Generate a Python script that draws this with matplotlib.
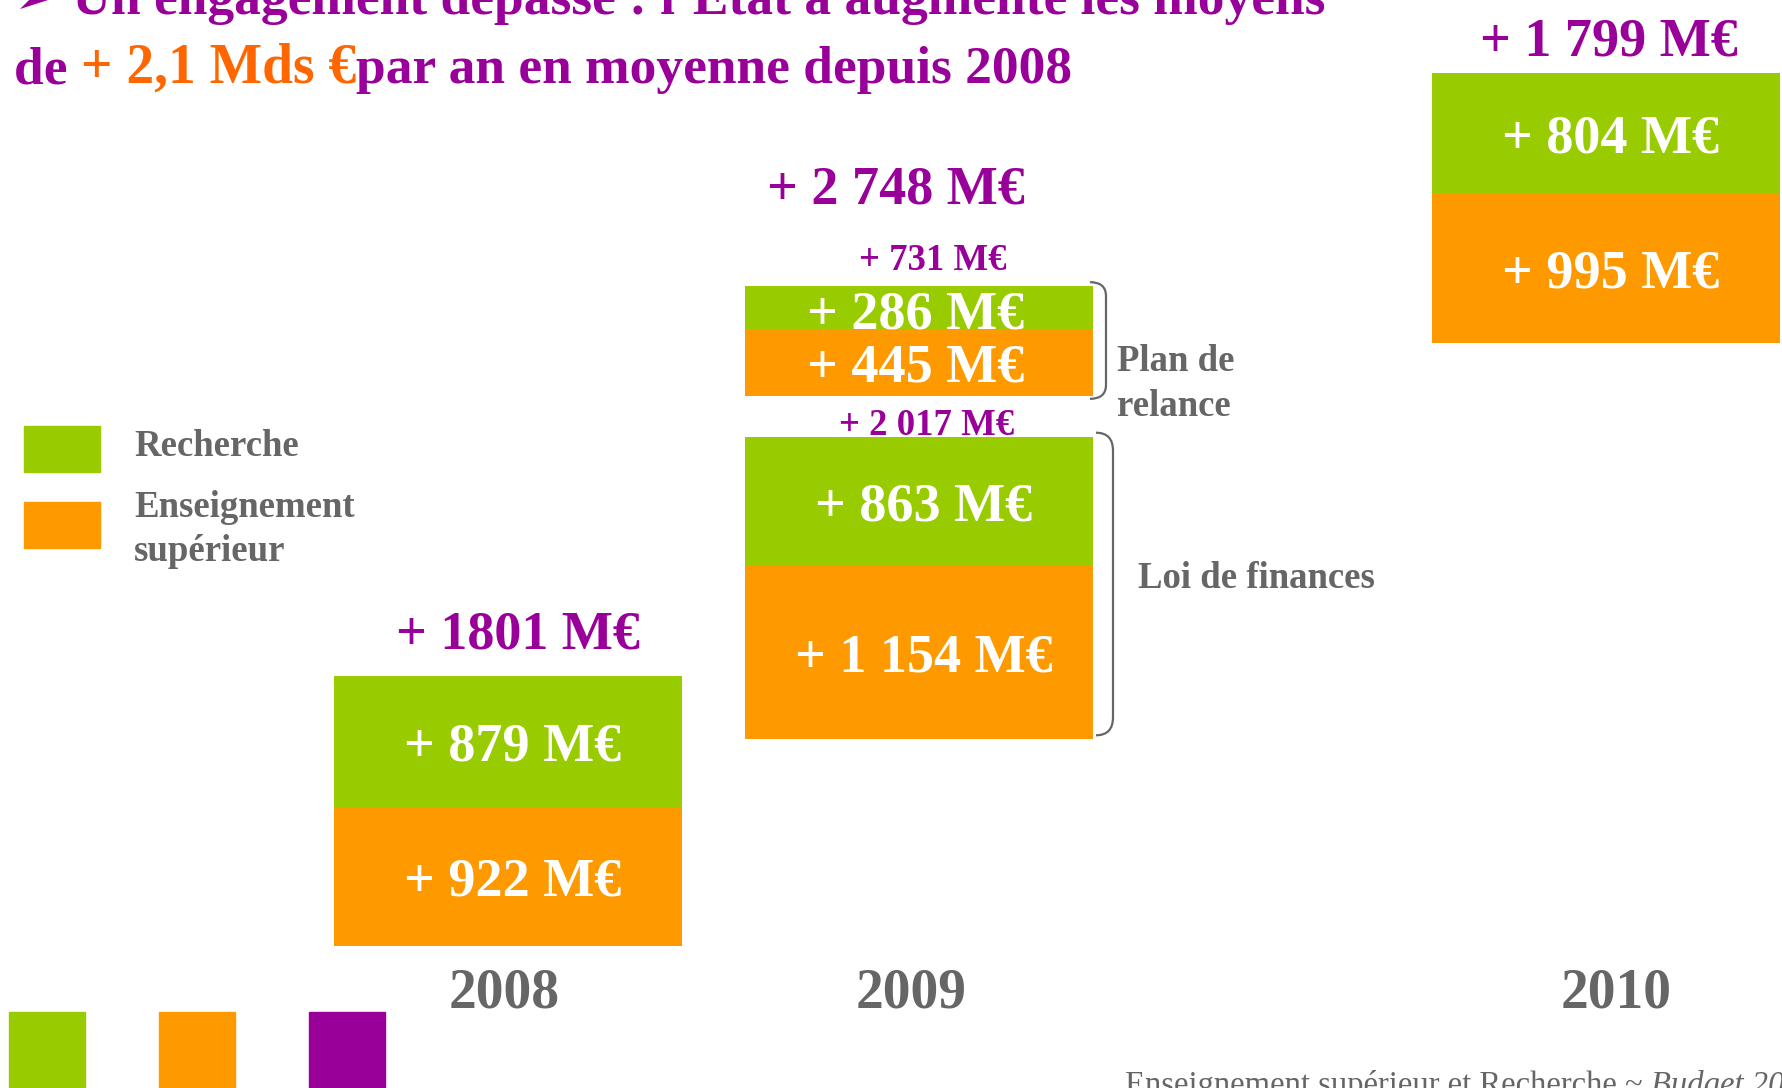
import matplotlib.pyplot as plt
from matplotlib.patches import Rectangle, PathPatch
from matplotlib.path import Path

# additional means per year, in M€
years = ['2008', '2009', '2010']
recherche = [879, 863, 804]        # 2009 = loi de finances
enseignement = [922, 1154, 995]
relance_recherche = 286            # 2009 plan de relance
relance_enseignement = 445

GREEN = '#99CC00'
ORANGE = '#FF9900'
PURPLE = '#990099'
TITLE_ORANGE = '#FF6600'
GRAY = '#666666'
SERIF = ['Liberation Serif', 'DejaVu Sans']

# slide layout (pixels)
K = 0.15                  # pixels per M€
BAR_W = 348
xpos = [508, 919, 1606]
centers = [811, 588, 208]
relance_center = 341
year_dx = [-4, -8, 10]


def fmt(v, sep=' '):
    return '+ ' + f'{v:,}'.replace(',', sep) + ' M€'


fig = plt.figure(figsize=(17.83, 10.88), dpi=100)
ax = fig.add_axes([0, 0, 1, 1])
ax.set_xlim(0, 1783)
ax.set_ylim(1088, 0)
ax.axis('off')
renderer = fig.canvas.get_renderer()


def width(s, **kw):
    t = ax.text(0, 0, s, **kw)
    w = t.get_window_extent(renderer=renderer).width
    t.remove()
    return w


def runs(x, y, parts, **kw):
    # draw pieces of text one after another on the same baseline
    for s, extra in parts:
        opts = dict(kw)
        opts.update(extra)
        ax.text(x, y, s, ha='left', va='baseline', **opts)
        x += width(s + '.', **opts) - width('.', **opts)


def bracket(x0, top, bot, w=16, r=14):
    verts = [(x0, top), (x0 + w, top), (x0 + w, top + r),
             (x0 + w, bot - r),
             (x0 + w, bot), (x0, bot)]
    codes = [Path.MOVETO, Path.CURVE3, Path.CURVE3, Path.LINETO, Path.CURVE3, Path.CURVE3]
    ax.add_patch(PathPatch(Path(verts, codes), fill=False, edgecolor=GRAY, lw=1.6))


big = dict(family=SERIF, fontweight='bold', fontsize=39)
small = dict(family=SERIF, fontweight='bold', fontsize=26.5)

# main stacks
hr = [v * K for v in recherche]
he = [v * K for v in enseignement]
tops = [c - (a + b) / 2 for c, a, b in zip(centers, hr, he)]
ax.bar(xpos, hr, bottom=tops, width=BAR_W, color=GREEN, zorder=2)
ax.bar(xpos, he, bottom=[t + a for t, a in zip(tops, hr)], width=BAR_W, color=ORANGE, zorder=2)
for x, t, a, b, vr, ve in zip(xpos, tops, hr, he, recherche, enseignement):
    ax.text(x + 5, t + a / 2, fmt(vr), color='white', ha='center', va='center_baseline', zorder=3, **big)
    ax.text(x + 5, t + a + b / 2, fmt(ve), color='white', ha='center', va='center_baseline', zorder=3, **big)

# 2009 plan de relance stack
rr = relance_recherche * K
re_ = relance_enseignement * K
rtop = relance_center - (rr + re_) / 2
ax.bar(xpos[1], rr, bottom=rtop, width=BAR_W, color=GREEN, zorder=2)
ax.bar(xpos[1], re_, bottom=rtop + rr, width=BAR_W, color=ORANGE, zorder=2)
ax.text(xpos[1] - 3, rtop + rr / 2 + 2, fmt(relance_recherche), color='white',
        ha='center', va='center_baseline', zorder=3, **big)
ax.text(xpos[1] - 3, rtop + rr + re_ / 2, fmt(relance_enseignement), color='white',
        ha='center', va='center_baseline', zorder=3, **big)

# totals
tot = [a + b for a, b in zip(recherche, enseignement)]
relance_tot = relance_recherche + relance_enseignement
ax.text(xpos[0] + 10, tops[0] - 27, fmt(tot[0], sep=''), color=PURPLE, ha='center', va='baseline', **big)
ax.text(xpos[1] + 8, tops[1] - 2, fmt(tot[1]), color=PURPLE, ha='center', va='baseline', zorder=1, **small)
ax.text(xpos[1] + 14, rtop - 16, fmt(relance_tot), color=PURPLE, ha='center', va='baseline', **small)
ax.text(xpos[1] - 23, rtop - 83, fmt(tot[1] + relance_tot), color=PURPLE, ha='center', va='baseline', **big)
ax.text(xpos[2] + 3, tops[2] - 18, fmt(tot[2]), color=PURPLE, ha='center', va='baseline', **big)

# brackets + side labels
right = xpos[1] + BAR_W / 2
bracket(right - 3, rtop - 4, rtop + rr + re_ + 3)
bracket(right + 3, tops[1] - 4, tops[1] + hr[1] + he[1] - 4, w=17, r=18)
side = dict(family=SERIF, fontweight='bold', fontsize=26.5, color=GRAY, ha='left', va='baseline')
ax.text(1117, 371, 'Plan de', **side)
ax.text(1117, 416, 'relance', **side)
ax.text(1138, 588, 'Loi de finances', **side)

# years
for x, dx, y in zip(xpos, year_dx, years):
    ax.text(x + dx, 1007, y, color=GRAY, ha='center', va='baseline',
            family=SERIF, fontweight='bold', fontsize=40)

# legend
ax.add_patch(Rectangle((24, 426), 76, 46, color=GREEN))
ax.add_patch(Rectangle((24, 502), 76, 46, color=ORANGE))
leg = dict(family=SERIF, fontweight='bold', fontsize=26.5, color=GRAY, ha='left', va='baseline')
ax.text(134, 456, 'Recherche', **leg)
ax.text(134, 517, 'Enseignement', **leg)
ax.text(134, 561, 'supérieur', **leg)

# title
title = dict(family=SERIF, fontweight='bold', fontsize=38.5, color=PURPLE)
ax.text(14, 14, '➢ Un engagement dépassé : l’Etat a augmenté les moyens',
        ha='left', va='baseline', **title)
runs(14, 83, [('de ', {}), ('+ 2,1 Mds €', {'color': TITLE_ORANGE, 'fontsize': 40}),
              ('par an en moyenne depuis 2008', {})], **title)

# slide decorations
for x, c in zip([9, 159, 309], [GREEN, ORANGE, PURPLE]):
    ax.add_patch(Rectangle((x, 1012), 76, 80, color=c))
runs(1125, 1094, [('Enseignement supérieur et Recherche ~ ', {}),
                  ('Budget 2010', {'style': 'italic'})],
     family=SERIF, fontsize=23.5, color=GRAY)

fig.savefig('out.png', dpi=100)
